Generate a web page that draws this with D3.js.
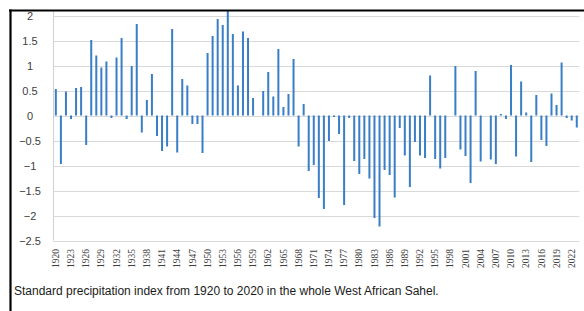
<html>
    <head>
        <meta charset="utf-8">
        <style>
            body { margin: 0; background: #fff; }
            svg { display: block; }
            .chart .bar { fill: #3a7ec6; }
            .chart .grid line { stroke: #d9d9d9; }
            .chart .ylab text { fill: #404040; font-size: 11px; font-family: "Liberation Sans", Arial; }
            .chart .xlab text { fill: #404040; font-size: 9.5px; font-family: "Liberation Serif", serif; }
            .chart .caption { fill: #1a1a1a; font-size: 12px; font-family: "Liberation Sans", Arial; }
        </style>
    </head>
    <body>
        <svg class="chart" width="584" height="311"></svg>
        <script src="https://d3js.org/d3.v7.min.js"></script>
        <script>
            // years 1920..2023, one bar each
            var years = d3.range(1920, 2024);

            var spi = [
                0.53, -0.97, 0.48, -0.07, 0.55, 0.57, -0.59, 1.51, 1.2, 0.96,      // 1920s
                1.08, -0.05, 1.16, 1.55, -0.07, 0.99, 1.83, -0.34, 0.31, 0.83,     // 1930s
                -0.41, -0.71, -0.62, 1.73, -0.74, 0.73, 0.6, -0.17, -0.17, -0.75,  // 1940s
                1.25, 1.59, 1.93, 1.81, 2.11, 1.63, 0.6, 1.68, 1.55, 0.35,         // 1950s
                0, 0.49, 0.87, 0.38, 1.33, 0.17, 0.43, 1.13, -0.62, 0.23,          // 1960s
                -1.11, -0.99, -1.65, -1.87, -0.51, -0.03, -0.37, -1.79, -0.05, -0.91, // 1970s
                -1.17, -0.87, -1.26, -2.05, -2.22, -1.09, -1.19, -1.64, -0.25, -0.8,  // 1980s
                -1.43, -0.53, -0.8, -0.85, 0.8, -0.87, -1.06, -0.85, 0, 0.99,      // 1990s
                -0.68, -0.81, -1.35, 0.89, -0.92, 0, -0.88, -0.97, 0.03, -0.07,    // 2000s
                1.01, -0.82, 0.68, 0.06, -0.93, 0.41, -0.49, -0.61, 0.44, 0.21,    // 2010s
                1.06, -0.05, -0.1, -0.24                                           // 2020s
            ];

            var yTicks = [-2.5, -2, -1.5, -1, -0.5, 0, 0.5, 1, 1.5, 2];
            var xTickYears = years.filter(function(y) { return (y - 1920) % 3 === 0; });

            var caption = "Standard precipitation index from 1920 to 2020 in the whole West African Sahel.";

            var data = years.map(function(y, i) { return { year: y, value: spi[i] }; });

            var chart = d3.select('.chart');

            var xScale = d3.scaleBand()
                .domain(years)
                .range([53.3, 579.3]);

            var yScale = d3.scaleLinear()
                .domain([-2.5, 2])
                .range([240.5, 15.5]);

            var barWidth = 2;

            // gridlines
            chart.append('g')
                .attr('class', 'grid')
                .selectAll('line')
                .data(yTicks)
                .enter()
                .append('line')
                .attr('x1', 53.3)
                .attr('x2', 579.3)
                .attr('y1', function(d) { return Math.round(yScale(d)) + 0.5; })
                .attr('y2', function(d) { return Math.round(yScale(d)) + 0.5; });

            // vertical axis line
            chart.append('line')
                .attr('x1', 53.5).attr('x2', 53.5)
                .attr('y1', 10).attr('y2', yScale(-2.5))
                .style('stroke', '#d0d0d0');

            // y labels
            var yAxis = chart.append('g')
                .attr('class', 'ylab')
                .attr('transform', 'translate(42,0)')
                .call(d3.axisLeft(yScale).tickValues(yTicks).tickFormat(d3.format('~g')).tickSize(0).tickPadding(0));
            yAxis.select('.domain').remove();
            yAxis.selectAll('text').attr('text-anchor', 'middle').attr('x', -12).attr('dy', '0.35em');

            // bars
            chart.append('g')
                .selectAll('rect')
                .data(data)
                .enter()
                .append('rect')
                .attr('class', 'bar')
                .attr('x', function(d) { return xScale(d.year) + xScale.bandwidth() / 2 - barWidth / 2; })
                .attr('width', barWidth)
                .attr('y', function(d) { return Math.min(yScale(d.value), yScale(0)); })
                .attr('height', function(d) { return Math.abs(yScale(d.value) - yScale(0)); });

            // x labels
            var xAxis = chart.append('g')
                .attr('class', 'xlab')
                .attr('transform', 'translate(0,' + 249 + ')')
                .call(d3.axisBottom(xScale).tickValues(xTickYears).tickSize(0).tickPadding(0));
            xAxis.select('.domain').remove();
            xAxis.selectAll('text')
                .attr('y', 0)
                .attr('x', 0)
                .attr('dy', '0.33em')
                .attr('transform', 'rotate(-90)')
                .attr('text-anchor', 'end');

            // frame
            chart.append('line')
                .attr('x1', 9).attr('x2', 584)
                .attr('y1', 10.5).attr('y2', 10.5)
                .style('stroke', '#000').style('stroke-width', 2.2);
            chart.append('line')
                .attr('x1', 10.5).attr('x2', 10.5)
                .attr('y1', 9.5).attr('y2', 311)
                .style('stroke', '#000').style('stroke-width', 2.2);

            chart.append('text')
                .attr('class', 'caption')
                .attr('x', 14)
                .attr('y', 295)
                .text(caption);
        </script>
    </body>
</html>
